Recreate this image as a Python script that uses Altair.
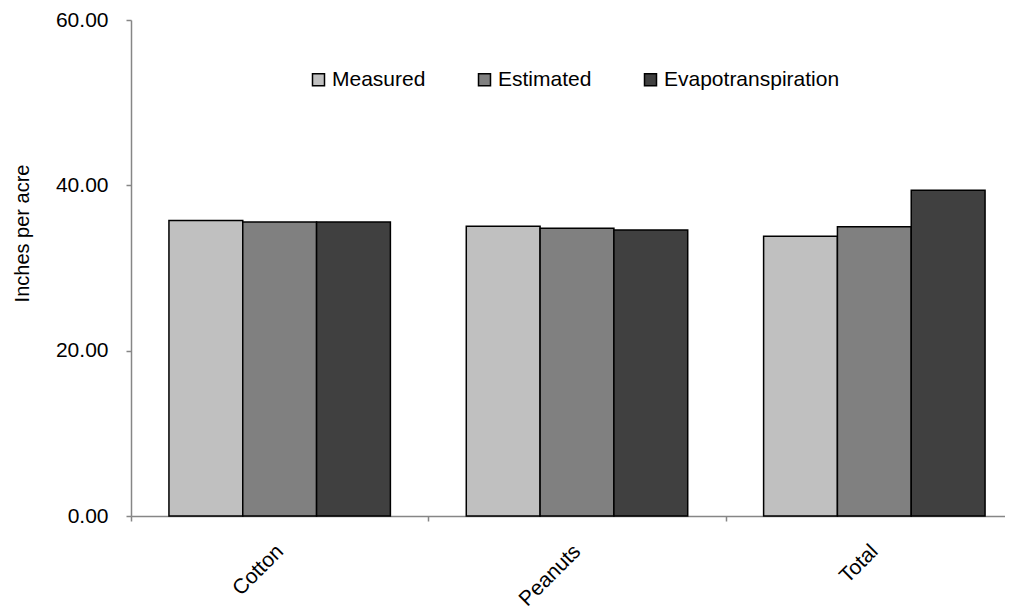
import altair as alt
import pandas as pd

crops = ["Cotton", "Peanuts", "Total"]
series = ["Measured", "Estimated", "Evapotranspiration"]
measured = [35.75, 35.05, 33.85]
estimated = [35.55, 34.80, 35.00]
evapo = [35.55, 34.60, 39.40]
colors = ["#C0C0C0", "#808080", "#404040"]
y_ticks = [0, 20, 40, 60]

rows = []
for i, c in enumerate(crops):
    for s, vals in zip(series, [measured, estimated, evapo]):
        rows.append({"crop": c, "series": s, "value": vals[i]})
df = pd.DataFrame(rows)

FONT = "Liberation Sans"
AXIS_GRAY = "#868686"

chart = alt.Chart(df).mark_bar(stroke="black", strokeWidth=1.5).encode(
    x=alt.X(
        "crop:N", sort=crops, title=None,
        scale=alt.Scale(range=[0, 892], paddingInner=0, paddingOuter=0),
        axis=alt.Axis(labelAngle=-45, labelAlign="right", labelBaseline="middle",
                      tickBand="extent", labelFontSize=21, labelFont=FONT,
                      labelPadding=27, tickSize=5, domainColor=AXIS_GRAY, tickColor=AXIS_GRAY,
                      labelColor="black", domainWidth=1.5, tickWidth=1.5),
    ),
    xOffset=alt.XOffset("series:N", sort=series,
                        scale=alt.Scale(paddingInner=0, paddingOuter=0.514)),
    y=alt.Y(
        "value:Q", scale=alt.Scale(domain=[0, 60]),
        axis=alt.Axis(values=y_ticks, format=".2f", title="Inches per acre", grid=False,
                      labelFontSize=21, labelFont=FONT, labelColor="black", labelPadding=18,
                      tickSize=5, domainColor=AXIS_GRAY, tickColor=AXIS_GRAY,
                      domainWidth=1.5, tickWidth=1.5,
                      titleFontSize=20, titleFont=FONT, titleFontWeight="normal",
                      titleColor="black", titleX=-109, titleY=213,
                      titleAlign="center", titleBaseline="middle", titleAngle=270),
    ),
    fill=alt.Fill(
        "series:N", sort=series,
        scale=alt.Scale(domain=series, range=colors),
        legend=alt.Legend(orient="none", legendX=177, legendY=49, direction="horizontal",
                          title=None, symbolType="square", symbolSize=144,
                          symbolStrokeColor="black", symbolStrokeWidth=1.5,
                          labelFontSize=21, labelFont=FONT, labelColor="black",
                          labelLimit=400, columnPadding=48, labelOffset=3, padding=0),
    ),
).properties(
    width=874, height=496,
    autosize=alt.AutoSizeParams(type="none"),
    padding={"left": 123, "top": 12, "right": 0, "bottom": 94},
).configure_view(stroke=None)

chart.save("out.html", embed_options={"renderer": "svg", "actions": False})
